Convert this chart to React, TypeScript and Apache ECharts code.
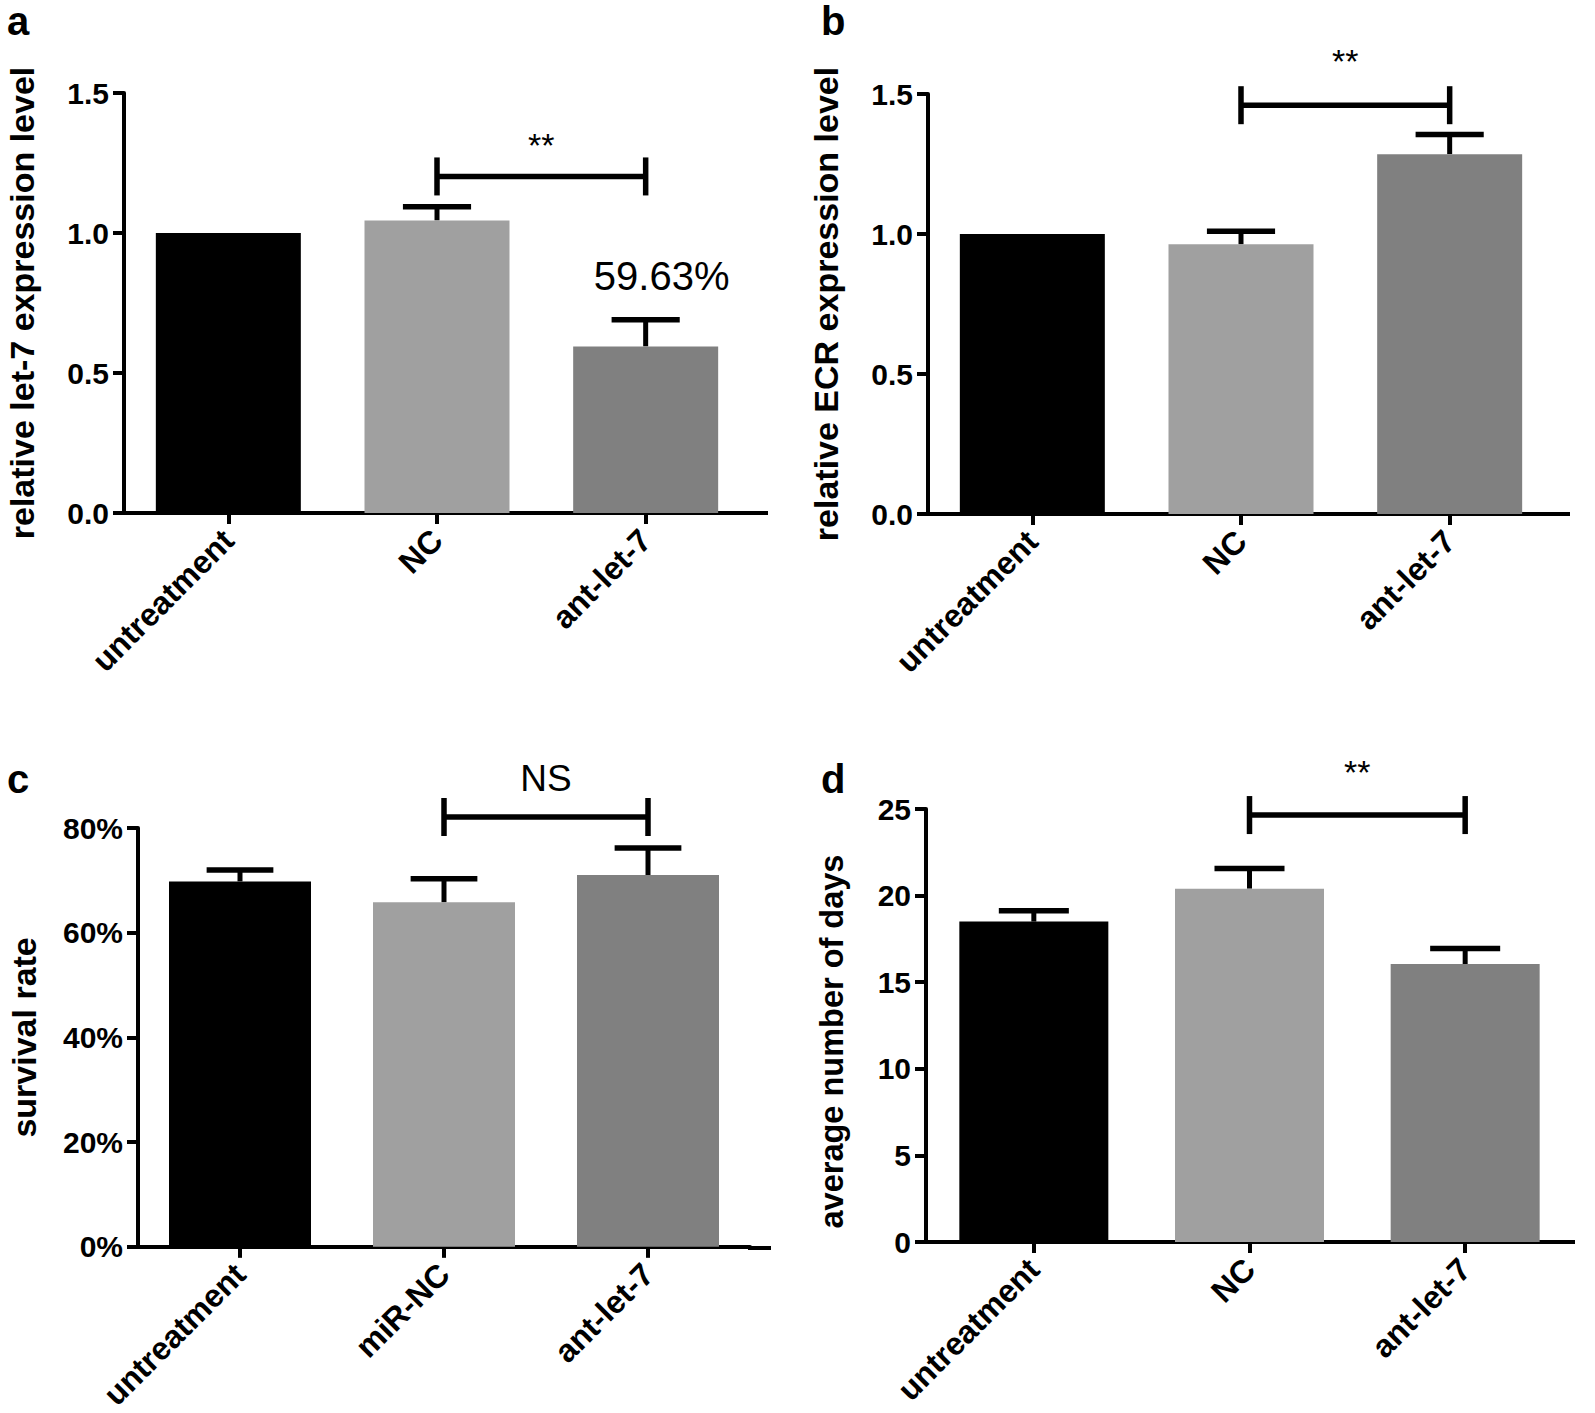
import React, { useEffect, useRef } from "react";
import * as echarts from "echarts";

// ---------- data ----------
const categoriesA = ["untreatment", "NC", "ant-let-7"];
const categoriesB = ["untreatment", "NC", "ant-let-7"];
const categoriesC = ["untreatment", "miR-NC", "ant-let-7"];
const categoriesD = ["untreatment", "NC", "ant-let-7"];

const let7Values = [1.0, 1.045, 0.595];
const let7Errors = [0, 0.049, 0.095];
const ecrValues = [1.0, 0.963, 1.285];
const ecrErrors = [0, 0.047, 0.07];
const survivalValues = [69.8, 65.8, 71.0];
const survivalErrors = [2.2, 4.5, 5.2];
const daysValues = [18.5, 20.4, 16.05];
const daysErrors = [0.62, 1.17, 0.9];

const yMins = [0, 0, 0, 0];
const yMaxs = [1.5, 1.5, 80, 25];
const yIntervals = [0.5, 0.5, 20, 5];

const yTitles = [
  "relative let-7 expression level",
  "relative ECR expression level",
  "survival rate",
  "average number of days",
];
const panelLetters = ["a", "b", "c", "d"];

// significance brackets: from category 1 to category 2
const bracketFrom = [1, 1, 1, 1];
const bracketTo = [2, 2, 2, 2];
const bracketLevels = [1.202, 1.46, 82.1, 24.65];
const bracketLabels = ["**", "**", "NS", "**"];
const bracketLabelLevels = [1.325, 1.63, 89.5, 27.3];

// extra annotation in panel a
const noteCategory = 2;
const noteLevel = 0.847;
const noteText = "59.63%";

// ---------- styles / layout ----------
const FONT = '"Liberation Sans", Arial, Helvetica, sans-serif';
const barColors = ["#000000", "#a0a0a0", "#808080"];
const layout = [
  { left: 124, top: 93, width: 626, height: 420, barWidth: 145, xEnd: 768, nameGap: 85, titleSize: 34, titleShift: 0, letterX: 7, letterY: 21 },
  { left: 928, top: 94, width: 626, height: 420, barWidth: 145, xEnd: 1570, nameGap: 85, titleSize: 34, titleShift: 0, letterX: 821, letterY: 21 },
  { left: 138, top: 828, width: 612, height: 420, barWidth: 142, xEnd: 771, nameGap: 97, titleSize: 34, titleShift: 0, letterX: 7, letterY: 779 },
  { left: 926, top: 809, width: 647, height: 433, barWidth: 149, xEnd: 1575, nameGap: 78, titleSize: 32.5, titleShift: 32, letterX: 821, letterY: 779 },
];

const panels = [
  { cats: categoriesA, values: let7Values, errors: let7Errors, fmt: (v: number) => v.toFixed(1) },
  { cats: categoriesB, values: ecrValues, errors: ecrErrors, fmt: (v: number) => v.toFixed(1) },
  { cats: categoriesC, values: survivalValues, errors: survivalErrors, fmt: (v: number) => `${Math.round(v)}%` },
  { cats: categoriesD, values: daysValues, errors: daysErrors, fmt: (v: number) => `${Math.round(v)}` },
];

function buildOption() {
  const grid: any[] = [];
  const xAxis: any[] = [];
  const yAxis: any[] = [];
  const series: any[] = [];
  const graphic: any[] = [];

  panels.forEach((p, k) => {
    const L = layout[k];
    grid.push({ left: L.left, top: L.top, width: L.width, height: L.height, containLabel: false });
    xAxis.push({
      type: "category",
      gridIndex: k,
      data: p.cats,
      boundaryGap: true,
      axisLine: { show: true, lineStyle: { color: "#000", width: 4 } },
      axisTick: { show: true, alignWithLabel: true, length: 11, lineStyle: { color: "#000", width: 4 } },
      axisLabel: {
        rotate: 45,
        margin: 22,
        color: "#000",
        fontFamily: FONT,
        fontWeight: "bold",
        fontSize: 32,
        interval: 0,
      },
      splitLine: { show: false },
    });
    yAxis.push({
      type: "value",
      gridIndex: k,
      min: yMins[k],
      max: yMaxs[k],
      interval: yIntervals[k],
      name: yTitles[k],
      nameLocation: "middle",
      nameRotate: 90,
      nameGap: L.nameGap,
      nameTextStyle: {
        color: "#000",
        fontFamily: FONT,
        fontWeight: "bold",
        fontSize: L.titleSize,
        padding: [0, L.titleShift, 0, 0],
      },
      axisLine: { show: true, lineStyle: { color: "#000", width: 4 } },
      axisTick: { show: true, length: 11, lineStyle: { color: "#000", width: 4 } },
      axisLabel: {
        margin: 15,
        color: "#000",
        fontFamily: FONT,
        fontWeight: "bold",
        fontSize: 30,
        formatter: p.fmt,
      },
      splitLine: { show: false },
    });

    series.push({
      type: "bar",
      xAxisIndex: k,
      yAxisIndex: k,
      barWidth: L.barWidth,
      data: p.values.map((v, i) => ({ value: v, itemStyle: { color: barColors[i] } })),
      silent: true,
    });

    // error bars (upper only)
    series.push({
      type: "custom",
      xAxisIndex: k,
      yAxisIndex: k,
      clip: false,
      silent: true,
      encode: { x: 0, y: 1 },
      data: p.values.map((v, i) => [i, v, v + p.errors[i]]),
      renderItem: (params: any, api: any) => {
        const lo = api.value(1);
        const hi = api.value(2);
        if (!(hi > lo)) return null;
        const a = api.coord([api.value(0), lo]);
        const b = api.coord([api.value(0), hi]);
        const capW = L.barWidth * 0.47;
        return {
          type: "group",
          children: [
            { type: "line", shape: { x1: a[0], y1: a[1], x2: b[0], y2: b[1] }, style: { stroke: "#000", lineWidth: 5 } },
            {
              type: "line",
              shape: { x1: b[0] - capW / 2, y1: b[1], x2: b[0] + capW / 2, y2: b[1] },
              style: { stroke: "#000", lineWidth: 5.5 },
            },
          ],
        };
      },
    });

    // significance bracket
    series.push({
      type: "custom",
      xAxisIndex: k,
      yAxisIndex: k,
      clip: false,
      silent: true,
      encode: { x: 0, y: 2 },
      data: [[bracketFrom[k], bracketTo[k], bracketLevels[k], bracketLabelLevels[k]]],
      renderItem: (params: any, api: any) => {
        const p1 = api.coord([api.value(0), api.value(2)]);
        const p2 = api.coord([api.value(1), api.value(2)]);
        const t = api.coord([api.value(0), api.value(3)]);
        const half = 19;
        const label = bracketLabels[k];
        const isStar = label === "**";
        return {
          type: "group",
          children: [
            { type: "line", shape: { x1: p1[0], y1: p1[1], x2: p2[0], y2: p2[1] }, style: { stroke: "#000", lineWidth: 5.5 } },
            { type: "line", shape: { x1: p1[0], y1: p1[1] - half, x2: p1[0], y2: p1[1] + half }, style: { stroke: "#000", lineWidth: 5.5 } },
            { type: "line", shape: { x1: p2[0], y1: p2[1] - half, x2: p2[0], y2: p2[1] + half }, style: { stroke: "#000", lineWidth: 5.5 } },
            {
              type: "text",
              x: (p1[0] + p2[0]) / 2,
              y: t[1] + (isStar ? 3 : 0),
              style: {
                text: label,
                fill: "#000",
                font: `normal ${isStar ? 34 : 37}px ${FONT}`,
                align: "center",
                verticalAlign: "middle",
              },
            },
          ],
        };
      },
    });

    // x axis line extension to the right (as in the original)
    const axisY = L.top + L.height;
    graphic.push({
      type: "line",
      shape: { x1: L.left + L.width - 2, y1: axisY, x2: L.xEnd, y2: axisY },
      style: { stroke: "#000", lineWidth: 4 },
      silent: true,
    });

    graphic.push({
      type: "text",
      x: L.letterX,
      y: L.letterY,
      style: { text: panelLetters[k], fill: "#000", font: `bold 40px ${FONT}`, align: "left", verticalAlign: "middle" },
      silent: true,
    });
  });

  // percentage note in panel a
  series.push({
    type: "custom",
    xAxisIndex: 0,
    yAxisIndex: 0,
    clip: false,
    silent: true,
    encode: { x: 0, y: 1 },
    data: [[noteCategory, noteLevel]],
    renderItem: (params: any, api: any) => {
      const c = api.coord([api.value(0), api.value(1)]);
      return {
        type: "text",
        x: c[0] + 16,
        y: c[1],
        style: { text: noteText, fill: "#000", font: `normal 40px ${FONT}`, align: "center", verticalAlign: "middle" },
      };
    },
  });

  return {
    animation: false,
    backgroundColor: "#ffffff",
    grid,
    xAxis,
    yAxis,
    series,
    graphic,
  };
}

export default function App() {
  const ref = useRef<HTMLDivElement>(null);
  useEffect(() => {
    if (!ref.current) return;
    const chart = echarts.init(ref.current, undefined, { renderer: "svg" });
    chart.setOption(buildOption() as any);
    return () => chart.dispose();
  }, []);
  return (
    <div
      ref={ref}
      style={{ position: "absolute", left: 0, top: 0, width: 1595, height: 1413, background: "#fff" }}
    />
  );
}
